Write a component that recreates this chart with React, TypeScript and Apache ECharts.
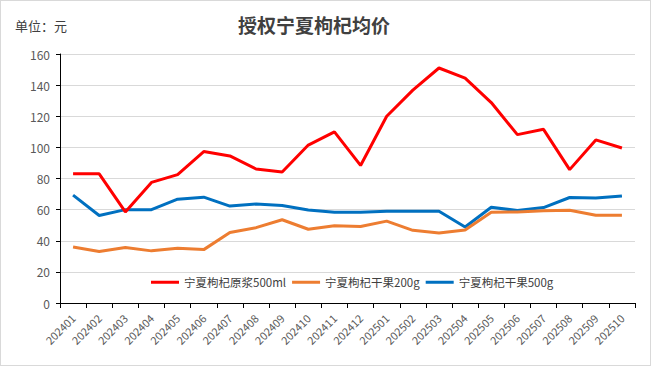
import React, { useEffect, useRef } from "react";
import * as echarts from "echarts";

const categories = ["202401","202402","202403","202404","202405","202406","202407","202408","202409","202410","202411","202412","202501","202502","202503","202504","202505","202506","202507","202508","202509","202510"];
const yuanjiang500 = [83, 83, 58.5, 77.5, 82.5, 97.3, 94.5, 86.1, 84.2, 101.5, 110, 88.4, 120, 136.8, 151, 144.5, 128.8, 108.2, 111.6, 85.7, 104.8, 99.6];
const ganguo200 = [36, 33.1, 35.6, 33.5, 35.2, 34.3, 45.3, 48.4, 53.5, 47.4, 49.7, 49.1, 52.6, 46.7, 45, 46.9, 58.3, 58.5, 59.3, 59.6, 56.4, 56.4];
const ganguo500 = [69.3, 56.2, 60, 60, 66.7, 68, 62.3, 63.6, 62.7, 59.8, 58.3, 58.3, 58.9, 58.9, 58.9, 48.8, 61.5, 59.4, 61.3, 67.8, 67.4, 68.8];
const seriesNames = ["宁夏枸杞原浆500ml", "宁夏枸杞干果200g", "宁夏枸杞干果500g"];
const colors = ["#ff0000", "#ed7d31", "#0070c0"];

export default function App() {
  const ref = useRef<HTMLDivElement>(null);
  useEffect(() => {
    const chart = echarts.init(ref.current!, null, { renderer: "svg" });
    const font = "'Noto Sans CJK SC', 'Noto Sans', sans-serif";
    const data = [yuanjiang500, ganguo200, ganguo500];
    chart.setOption({
      animation: false,
      backgroundColor: "#ffffff",
      textStyle: { fontFamily: font },
      title: {
        text: "授权宁夏枸杞均价",
        left: 232,
        top: 9,
        textStyle: { fontSize: 19, fontWeight: "bold", color: "#404040", fontFamily: font },
      },
      graphic: [
        {
          type: "text",
          left: 14,
          top: 18,
          style: { text: "单位：元", fontSize: 13, fill: "#404040", fontFamily: font },
        },
      ],
      legend: {
        data: seriesNames,
        bottom: 75,
        left: 146,
        itemWidth: 28,
        itemHeight: 3,
        itemGap: 6,
        icon: "rect",
        backgroundColor: "#ffffff",
        padding: [2, 4],
        textStyle: { fontSize: 11.5, color: "#404040", fontFamily: font },
      },
      grid: { left: 59, right: 15, top: 53, bottom: 62, containLabel: false },
      xAxis: {
        type: "category",
        data: categories,
        boundaryGap: true,
        axisLine: { lineStyle: { color: "#000", width: 1 } },
        axisTick: { show: true, alignWithLabel: false, length: 5, lineStyle: { color: "#000" } },
        axisLabel: { rotate: 45, fontSize: 11, color: "#595959", margin: 13, interval: 0 },
      },
      yAxis: {
        type: "value",
        min: 0,
        max: 160,
        interval: 20,
        axisLine: { show: true, lineStyle: { color: "#000", width: 1 } },
        axisTick: { show: true, length: 4, lineStyle: { color: "#000" } },
        axisLabel: { fontSize: 12, color: "#595959", margin: 10 },
        splitLine: { lineStyle: { color: "#d9d9d9", width: 1 } },
      },
      series: seriesNames.map((name, i) => ({
        name,
        type: "line",
        data: data[i],
        symbol: "none",
        lineStyle: { color: colors[i], width: 3 },
        itemStyle: { color: colors[i] },
        z: 3 - i,
      })),
    });
    return () => chart.dispose();
  }, []);
  return (
    <div
      style={{
        position: "fixed",
        left: 0,
        top: 0,
        width: 651,
        height: 366,
        boxSizing: "border-box",
        border: "1px solid #d9d9d9",
        background: "#fff",
      }}
    >
      <div ref={ref} style={{ width: 649, height: 364 }} />
    </div>
  );
}
